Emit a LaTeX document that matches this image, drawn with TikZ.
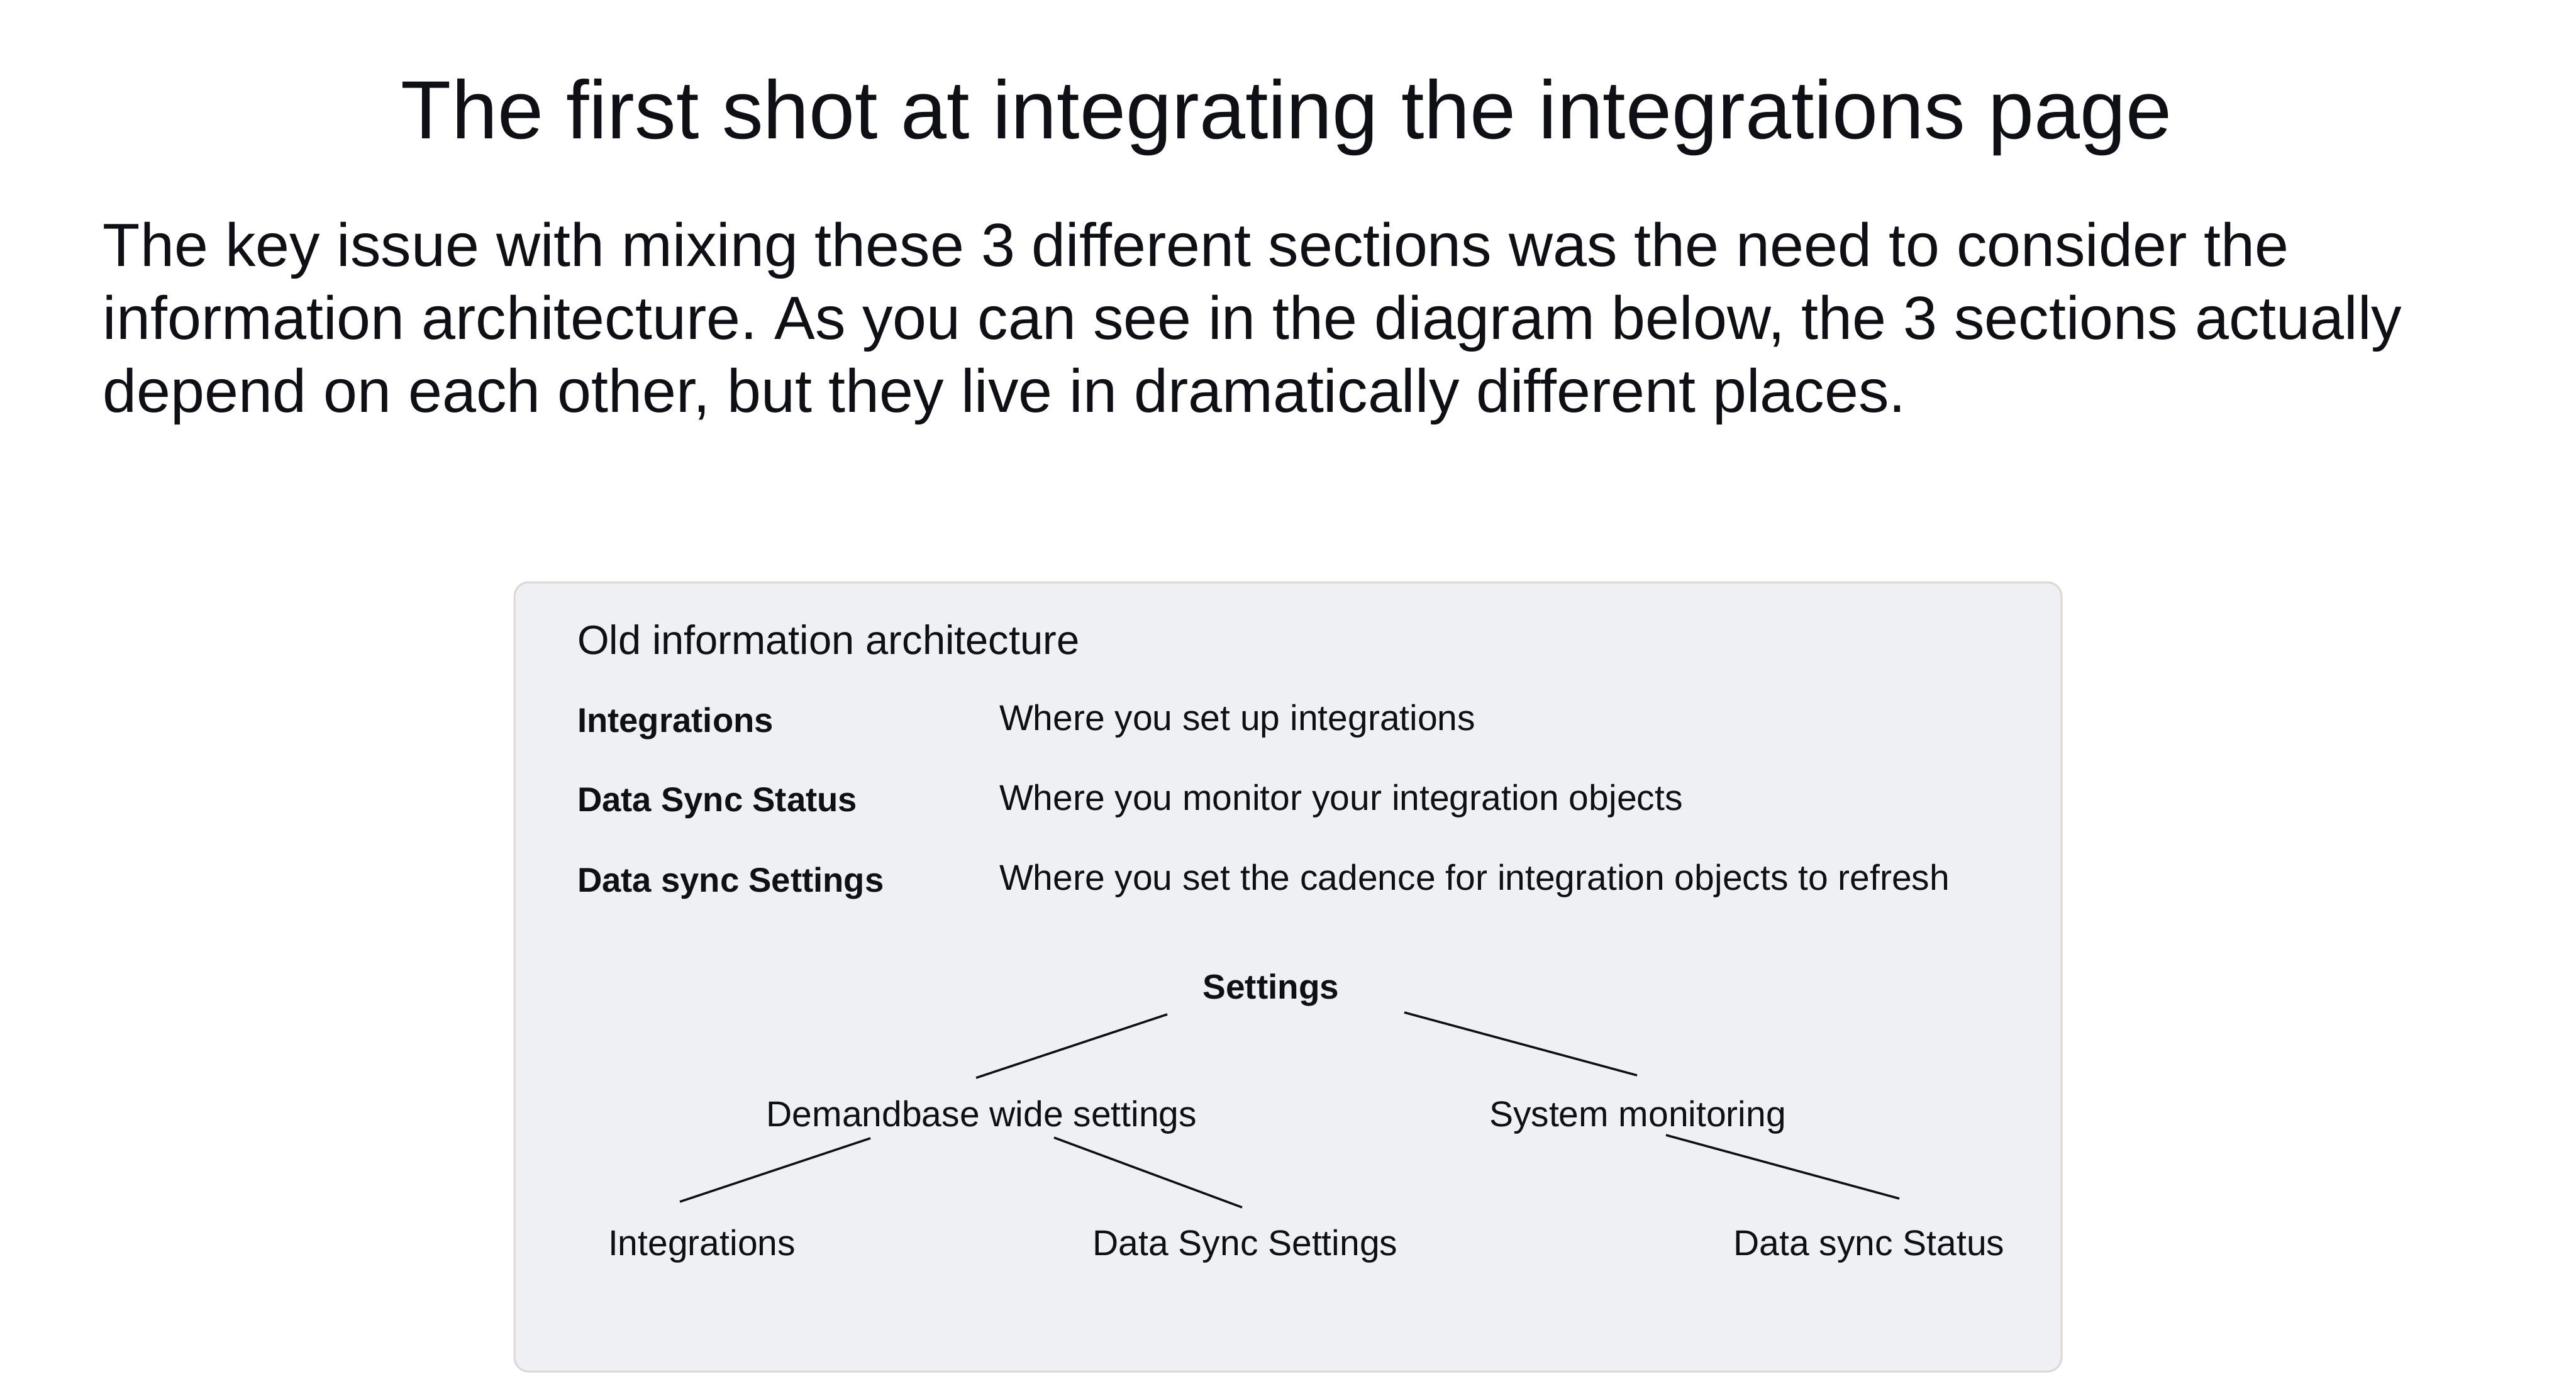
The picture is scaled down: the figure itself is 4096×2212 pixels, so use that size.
\documentclass[tikz,border=0pt]{standalone}
\usepackage{fontspec}
\setmainfont{Liberation Sans}
\frenchspacing
\definecolor{ink}{HTML}{0E1016}
\definecolor{boxfill}{HTML}{EFF0F4}
\definecolor{boxline}{HTML}{DCD9D4}
\tikzset{
  px/.style={x=0.2pt,y=-0.2pt},
  title/.style={anchor=base,inner sep=0pt,text=ink,font=\fontsize{26.25}{30}\selectfont},
  para/.style={anchor=base west,inner sep=0pt,text=ink,font=\fontsize{19.4}{23}\selectfont},
  heading/.style={anchor=base west,inner sep=0pt,text=ink,font=\fontsize{13}{16}\selectfont},
  term/.style={anchor=base west,inner sep=0pt,text=ink,font=\fontsize{10.9}{14}\selectfont\bfseries},
  desc/.style={anchor=base west,inner sep=0pt,text=ink,font=\fontsize{11.4}{14}\selectfont},
  tnode/.style={anchor=base,inner sep=0pt,text=ink,font=\fontsize{11.4}{14}\selectfont},
  troot/.style={tnode,font=\fontsize{11}{14}\selectfont\bfseries},
  edge/.style={draw=ink,line width=0.7pt}
}
\begin{document}
\begin{tikzpicture}[px]
\useasboundingbox (0,0) rectangle (4096,2212);
\fill[white] (0,0) rectangle (4096,2212);
% title and paragraph
\node[title] (ttl) at (2046,220) {The first shot at integrating the integrations page};
\node[para] (p1) at (163,423) {The key issue with mixing these 3 different sections was the need to consider the};
\node[para] (p2) at (163,539) {information architecture. As you can see in the diagram below, the 3 sections actually};
\node[para] (p3) at (163,655) {depend on each other, but they live in dramatically different places.};
% panel
\draw[boxline,fill=boxfill,line width=0.6pt,rounded corners=4.5pt] (818,926) rectangle (3278,2181);
\node[heading] (hd) at (917,1040) {Old information architecture};
\node[term] (t1) at (917,1164) {Integrations};
\node[desc] (d1) at (1588,1161) {Where you set up integrations};
\node[term] (t2) at (917,1290) {Data Sync Status};
\node[desc] (d2) at (1588,1288) {Where you monitor your integration objects};
\node[term] (t3) at (917,1418) {Data sync Settings};
\node[desc] (d3) at (1588,1415) {Where you set the cadence for integration objects to refresh};
% tree
\node[troot] (set) at (2021,1588) {Settings};
\node[tnode] (dbw) at (1561,1791) {Demandbase wide settings};
\node[tnode] (sys) at (2604,1791) {System monitoring};
\node[tnode] (int) at (1116,1996) {Integrations};
\node[tnode] (dss) at (1980,1996) {Data Sync Settings};
\node[tnode] (dst) at (2972,1996) {Data sync Status};
\coordinate (set-l) at (1856,1613);
\coordinate (dbw-t) at (1552,1714);
\coordinate (set-r) at (2233,1610);
\coordinate (sys-t) at (2603,1710);
\coordinate (dbw-l) at (1384,1810);
\coordinate (int-t) at (1081,1911);
\coordinate (dbw-r) at (1676,1809);
\coordinate (dss-t) at (1975,1920);
\coordinate (sys-b) at (2649,1805);
\coordinate (dst-t) at (3020,1906);
\draw[edge] (set-l) -- (dbw-t);
\draw[edge] (set-r) -- (sys-t);
\draw[edge] (dbw-l) -- (int-t);
\draw[edge] (dbw-r) -- (dss-t);
\draw[edge] (sys-b) -- (dst-t);
\end{tikzpicture}
\end{document}
